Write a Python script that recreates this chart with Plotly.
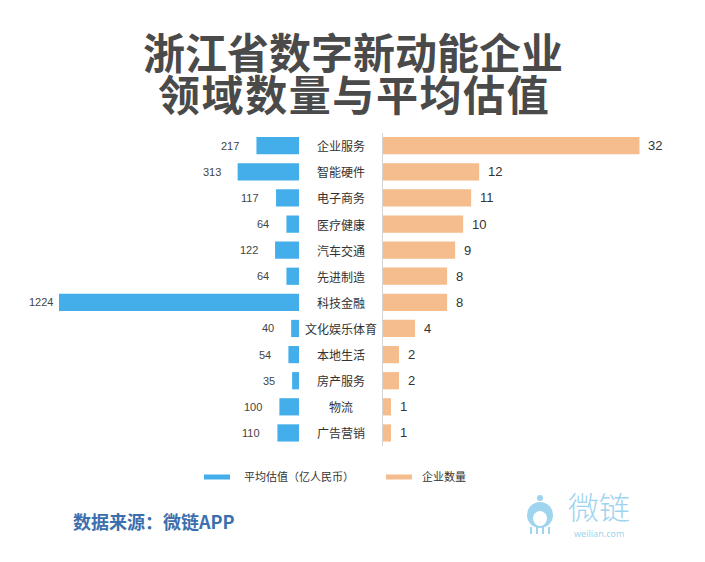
import plotly.graph_objects as go

# ---------------- data ----------------
categories = ["企业服务", "智能硬件", "电子商务", "医疗健康", "汽车交通", "先进制造",
              "科技金融", "文化娱乐体育", "本地生活", "房产服务", "物流", "广告营销"]
avg_valuation = [217, 313, 117, 64, 122, 64, 1224, 40, 54, 35, 100, 110]   # 亿人民币
company_count = [32, 12, 11, 10, 9, 8, 8, 4, 2, 2, 1, 1]

title_lines = ["浙江省数字新动能企业", "领域数量与平均估值"]
legend_labels = ["平均估值（亿人民币）", "企业数量"]
source_text = "数据来源：微链APP"

BLUE = "#43aee9"
ORANGE = "#f5bd8d"
OFF = 8                      # page body margin
W, H = 705 - OFF, 562 - OFF
CJK = "Noto Sans CJK SC, Noto Sans, sans-serif"


def px(x):
    return (x - OFF) / W


def py(y):
    return 1 - (y - OFF) / H


# plot geometry (page pixels)
left_right_edge = 299
right_left_edge = 383
row_top, row_bottom = 132.6, 446.0
y_domain = [py(row_bottom), py(row_top)]

fig = go.Figure()
fig.add_trace(go.Bar(y=categories, x=avg_valuation, orientation="h",
                     xaxis="x", yaxis="y", marker=dict(color=BLUE, line=dict(width=0)),
                     width=0.66, showlegend=False, hoverinfo="x+y"))
fig.add_trace(go.Bar(y=categories, x=company_count, orientation="h",
                     xaxis="x2", yaxis="y2", marker=dict(color=ORANGE, line=dict(width=0)),
                     width=0.66, showlegend=False, hoverinfo="x+y"))

annotations = []
# left value labels
for c, v in zip(categories, avg_valuation):
    annotations.append(dict(xref="x", yref="y", x=v, y=c, text=str(v), showarrow=False,
                            xanchor="right", xshift=(-4 if v > 1000 else -15),
                            font=dict(family="Liberation Sans, Arial, sans-serif", size=11, color="#444")))
# right value labels
for c, v in zip(categories, company_count):
    annotations.append(dict(xref="x2", yref="y2", x=v, y=c, text=str(v), showarrow=False,
                            xanchor="left", xshift=7,
                            font=dict(family="Liberation Sans, Arial, sans-serif", size=13, color="#333")))
# category labels
for c in categories:
    annotations.append(dict(xref="paper", yref="y", x=px(341), y=c, text=c, showarrow=False,
                            xanchor="center", font=dict(family=CJK, size=12, color="#333")))

# title
annotations.append(dict(xref="paper", yref="paper", x=px(353), y=py(51), text="<b>" + title_lines[0] + "</b>",
                        showarrow=False, xanchor="center", yanchor="middle",
                        font=dict(family=CJK, size=42, color="#4a4a4a")))
gap = "<span style='font-size:25px'>\u200a</span>"
annotations.append(dict(xref="paper", yref="paper", x=px(353), y=py(93),
                        text="<b>" + gap.join(title_lines[1]) + "</b>",
                        showarrow=False, xanchor="center", yanchor="middle",
                        font=dict(family=CJK, size=42, color="#4a4a4a")))

# legend (custom)
shapes = []
shapes.append(dict(type="rect", xref="paper", yref="paper", x0=px(204), x1=px(230),
                   y0=py(479.5), y1=py(474.5), fillcolor=BLUE, line=dict(width=0)))
shapes.append(dict(type="rect", xref="paper", yref="paper", x0=px(386), x1=px(412),
                   y0=py(479.5), y1=py(474.5), fillcolor=ORANGE, line=dict(width=0)))
annotations.append(dict(xref="paper", yref="paper", x=px(242), y=py(476), text=legend_labels[0],
                        showarrow=False, xanchor="left", yanchor="middle",
                        font=dict(family=CJK, size=11, color="#333")))
annotations.append(dict(xref="paper", yref="paper", x=px(420), y=py(476), text=legend_labels[1],
                        showarrow=False, xanchor="left", yanchor="middle",
                        font=dict(family=CJK, size=11, color="#333")))

# source
annotations.append(dict(xref="paper", yref="paper", x=px(71), y=py(521), text="<b>" + source_text + "</b>",
                        showarrow=False, xanchor="left", yanchor="middle",
                        font=dict(family=CJK, size=18, color="#3b6fae")))

# logo text
LOGO = "#9fd4ef"
annotations.append(dict(xref="paper", yref="paper", x=px(599), y=py(505), text="微链",
                        showarrow=False, xanchor="center", yanchor="middle",
                        font=dict(family="Noto Sans CJK SC", size=31, color=LOGO, weight=300)))
annotations.append(dict(xref="paper", yref="paper", x=px(599), y=py(533), text="weilian.com",
                        showarrow=False, xanchor="center", yanchor="middle",
                        font=dict(family="Noto Sans, sans-serif", size=9, color=LOGO)))
# logo icon (simple shapes)
shapes.append(dict(type="circle", xref="paper", yref="paper", x0=px(527), x1=px(553),
                   y0=py(528), y1=py(502), fillcolor=LOGO, line=dict(width=0)))
shapes.append(dict(type="circle", xref="paper", yref="paper", x0=px(533), x1=px(547),
                   y0=py(526), y1=py(511), fillcolor="white", line=dict(width=0)))
shapes.append(dict(type="circle", xref="paper", yref="paper", x0=px(537), x1=px(543),
                   y0=py(501), y1=py(495), fillcolor=LOGO, line=dict(width=0)))
for tx in [529, 535, 541, 547]:
    shapes.append(dict(type="line", xref="paper", yref="paper", x0=px(tx + 2), x1=px(tx + 2),
                       y0=py(527), y1=py(534), line=dict(color=LOGO, width=2)))

fig.update_layout(
    width=W, height=H,
    margin=dict(l=0, r=0, t=0, b=0),
    paper_bgcolor="white", plot_bgcolor="white",
    barmode="overlay",
    xaxis=dict(domain=[0, px(left_right_edge)], range=[(left_right_edge - OFF) / (240 / 1224), 0],
               visible=False, fixedrange=True),
    xaxis2=dict(domain=[px(right_left_edge), 1], range=[0, 41.2 - OFF / 7.81], visible=False, fixedrange=True),
    yaxis=dict(domain=y_domain, anchor="x", type="category", categoryorder="array",
               categoryarray=categories, range=[11.5, -0.5], visible=False),
    yaxis2=dict(domain=y_domain, anchor="x2", type="category", categoryorder="array",
                categoryarray=categories, range=[11.5, -0.5], showline=True,
                linecolor="#d4d4d4", linewidth=1, showticklabels=False, showgrid=False,
                zeroline=False, ticks=""),
    annotations=annotations,
    shapes=shapes,
    font=dict(family=CJK),
)

fig.write_html("out.html")
